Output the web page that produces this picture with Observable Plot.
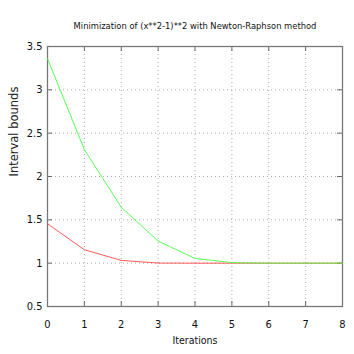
<!DOCTYPE html>
<html><head><meta charset="utf-8">
<script src="https://cdn.jsdelivr.net/npm/d3@7"></script>
<script src="https://cdn.jsdelivr.net/npm/@observablehq/plot@0.6"></script>
<style>body{margin:0;background:#fff}</style>
</head><body><div id="chart"></div>
<script>
const iterations = [0, 1, 2, 3, 4, 5, 6, 7, 8];
const upperBound = [3.36, 2.31, 1.645, 1.255, 1.055, 1.006, 1.0, 1.0, 1.0];
const lowerBound = [1.455, 1.155, 1.032, 1.001, 1.0, 1.0, 1.0, 1.0, 1.0];
const xTicks = [0, 1, 2, 3, 4, 5, 6, 7, 8];
const yTicks = [0.5, 1, 1.5, 2, 2.5, 3, 3.5];
const titleText = "Minimization of (x**2-1)**2 with Newton-Raphson method";

const lower = iterations.map((x, i) => ({x, y: lowerBound[i]}));
const upper = iterations.map((x, i) => ({x, y: upperBound[i]}));
const font = "DejaVu Sans Condensed";
const W = 354, H = 354, mT = 46, mB = 48, mL = 47, mR = 12;
const innerH = H - mT - mB, innerW = W - mL - mR;

const chart = Plot.plot({
  width: W, height: H,
  marginTop: mT, marginBottom: mB, marginLeft: mL, marginRight: mR,
  style: {fontFamily: font, fontSize: "10px", background: "#fff", color: "#111"},
  x: {domain: [0, 8], ticks: xTicks, label: null},
  y: {domain: [0.5, 3.5], ticks: yTicks, label: null},
  marks: [
    Plot.gridX(xTicks, {stroke: "#aaa", strokeOpacity: 1, strokeDasharray: "1,3"}),
    Plot.gridY(yTicks, {stroke: "#aaa", strokeOpacity: 1, strokeDasharray: "1,3"}),
    Plot.tickX(xTicks, {x: d => d, insetBottom: innerH - 5, stroke: "#666"}),
    Plot.tickX(xTicks, {x: d => d, insetTop: innerH - 5, stroke: "#666"}),
    Plot.tickY(yTicks, {y: d => d, insetRight: innerW - 5, stroke: "#666"}),
    Plot.tickY(yTicks, {y: d => d, insetLeft: innerW - 5, stroke: "#666"}),
    Plot.axisX({ticks: xTicks, tickSize: 0, tickPadding: 14, fontSize: 11, label: null, tickFormat: d => String(d)}),
    Plot.axisY({ticks: yTicks, tickSize: 0, tickPadding: 5, fontSize: 11, label: null, tickFormat: d => String(d)}),
    Plot.frame({stroke: "#777", strokeWidth: 1.3}),
    Plot.line(lower, {x: "x", y: "y", stroke: "#ff4444", strokeWidth: 0.9}),
    Plot.line(upper, {x: "x", y: "y", stroke: "#44ff44", strokeWidth: 0.9}),
    Plot.text([titleText], {frameAnchor: "top", dy: -24, fontSize: 9.3, text: d => d}),
    Plot.text(["Iterations"], {frameAnchor: "bottom", dy: 37, fontSize: 10.5, text: d => d}),
    Plot.text(["Interval bounds"], {frameAnchor: "left", dx: -33, rotate: -90, fontSize: 11.5, fontFamily: "DejaVu Sans", fill: "#222", text: d => d})
  ]
});
document.getElementById("chart").appendChild(chart);
</script>
</body></html>
